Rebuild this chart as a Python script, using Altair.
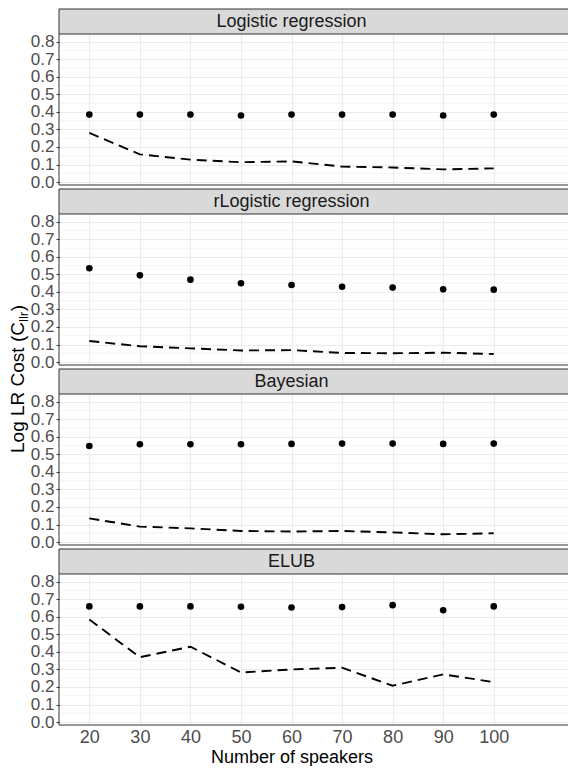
import altair as alt
import pandas as pd

FONT = "Liberation Sans"

speakers = [20, 30, 40, 50, 60, 70, 80, 90, 100]
methods = ["Logistic regression", "rLogistic regression", "Bayesian", "ELUB"]

cllr_points = {
    "Logistic regression": [0.385, 0.385, 0.385, 0.38, 0.385, 0.385, 0.385, 0.38, 0.385],
    "rLogistic regression": [0.535, 0.495, 0.47, 0.45, 0.44, 0.43, 0.425, 0.415, 0.413],
    "Bayesian": [0.548, 0.558, 0.558, 0.558, 0.56, 0.562, 0.562, 0.56, 0.562],
    "ELUB": [0.66, 0.66, 0.66, 0.658, 0.654, 0.656, 0.667, 0.638, 0.66],
}
cllr_line = {
    "Logistic regression": [0.28, 0.158, 0.128, 0.113, 0.118, 0.088, 0.083, 0.072, 0.078],
    "rLogistic regression": [0.12, 0.09, 0.078, 0.066, 0.068, 0.052, 0.05, 0.053, 0.046],
    "Bayesian": [0.135, 0.088, 0.078, 0.063, 0.06, 0.063, 0.055, 0.044, 0.05],
    "ELUB": [0.585, 0.37, 0.43, 0.283, 0.3, 0.31, 0.207, 0.272, 0.228],
}
y_major = [0.0, 0.1, 0.2, 0.3, 0.4, 0.5, 0.6, 0.7, 0.8]
y_minor = [0.05, 0.15, 0.25, 0.35, 0.45, 0.55, 0.65, 0.75]

W = 509
PH = 151
SH = 25
GAP = 4
PX_PER_UNIT = 5.055
X_LO = 14.0

xscale = alt.Scale(domain=[X_LO, X_LO + W / PX_PER_UNIT], nice=False, zero=False)
yscale = alt.Scale(domain=[-0.017, 0.845], nice=False, zero=False)
DARK = "#333333"

yaxis = alt.Axis(
    values=y_major, format=".1f", grid=True, gridColor="#EBEBEB", gridWidth=1.1,
    domain=False, ticks=True, tickColor=DARK, tickSize=3, tickWidth=1,
    labelFontSize=17, labelColor="#4D4D4D", labelPadding=2, labelOverlap=False,
    title=None,
)


def strip(name, idx):
    gap = 0 if idx == 0 else GAP
    df = pd.DataFrame({"method": [name]})
    box = alt.Chart(df).mark_rect(fill="#D9D9D9").encode(
        x=alt.value(0), x2=alt.value(W), y=alt.value(gap), y2=alt.value(gap + SH)
    )
    top = alt.Chart(df).mark_rule(color=DARK, strokeWidth=1).encode(
        x=alt.value(0), x2=alt.value(W), y=alt.value(gap)
    )
    left = alt.Chart(df).mark_rule(color=DARK, strokeWidth=1).encode(
        x=alt.value(0), y=alt.value(gap), y2=alt.value(gap + SH)
    )
    label = alt.Chart(df).mark_text(
        fontSize=18, color="#1A1A1A", baseline="middle", align="center"
    ).encode(
        x=alt.X(datum=60, scale=xscale, axis=None),
        y=alt.value(gap + SH / 2),
        text="method:N",
    )
    return alt.layer(box, top, left, label).properties(
        width=W, height=SH + gap,
        view=alt.ViewConfig(stroke=None, fill=None),
    )


def panel(name, idx):
    last = idx == len(methods) - 1
    if last:
        xaxis = alt.Axis(
            values=speakers, grid=True, gridColor="#EBEBEB", gridWidth=1.1,
            domain=False, ticks=False, tickSize=0, labelFontSize=18,
            labelColor="#4D4D4D", labelPadding=3, labelOverlap=False,
            title="Number of speakers",
            titleFontSize=18, titleColor="#000000", titleFontWeight="normal",
            titlePadding=2, titleX=(60 - X_LO) * PX_PER_UNIT,
        )
    else:
        xaxis = alt.Axis(
            values=speakers, grid=True, gridColor="#EBEBEB", gridWidth=1.1,
            domain=False, ticks=False, labels=False, title=None,
        )
    pts = pd.DataFrame({"speakers": speakers, "value": cllr_points[name]})
    ln = pd.DataFrame({"speakers": speakers, "value": cllr_line[name]})
    mn = pd.DataFrame({"value": y_minor})
    one = alt.Data(values=[{}])

    minor = alt.Chart(mn).mark_rule(color="#EBEBEB", strokeWidth=0.6).encode(
        y=alt.Y("value:Q", scale=yscale, axis=yaxis)
    )
    line = alt.Chart(ln).mark_line(
        color="black", strokeWidth=1.9, strokeDash=[10, 6]
    ).encode(
        x=alt.X("speakers:Q", scale=xscale, axis=xaxis),
        y=alt.Y("value:Q", scale=yscale, axis=yaxis),
    )
    dots = alt.Chart(pts).mark_circle(color="black", opacity=1, size=44).encode(
        x=alt.X("speakers:Q", scale=xscale, axis=xaxis),
        y=alt.Y("value:Q", scale=yscale, axis=yaxis),
    )
    b_left = alt.Chart(one).mark_rule(color=DARK, strokeWidth=1).encode(
        x=alt.value(0), y=alt.value(0), y2=alt.value(PH)
    )
    b_top = alt.Chart(one).mark_rule(color=DARK, strokeWidth=1).encode(
        x=alt.value(0), x2=alt.value(W), y=alt.value(0)
    )
    b_bot = alt.Chart(one).mark_rule(color=DARK, strokeWidth=1).encode(
        x=alt.value(0), x2=alt.value(W), y=alt.value(PH)
    )
    layers = [minor, line, dots, b_left, b_top, b_bot]
    if idx == 1:
        fs = 19
        yb = 239
        base_kw = dict(angle=270, align="left", baseline="alphabetic", color="#000000")
        t1 = alt.Chart(one).mark_text(text="Log LR Cost (C", fontSize=fs, **base_kw).encode(
            x=alt.value(-35.5), y=alt.value(yb))
        t2 = alt.Chart(one).mark_text(text="llr", fontSize=13.3, dx=6.891 * fs, dy=4.5, **base_kw).encode(
            x=alt.value(-35.5), y=alt.value(yb))
        t3 = alt.Chart(one).mark_text(text=")", fontSize=fs, dx=6.891 * fs + 10.8, **base_kw).encode(
            x=alt.value(-35.5), y=alt.value(yb))
        layers += [t1, t2, t3]
    return alt.layer(*layers).properties(
        width=W, height=PH,
        view=alt.ViewConfig(fill="#FFFFFF", stroke=None),
    )


items = []
for i, m in enumerate(methods):
    items.append(strip(m, i))
    items.append(panel(m, i))

chart = alt.vconcat(*items, spacing=0, bounds="flush").properties(
    padding={"left": 0, "top": 0, "right": 0, "bottom": 0}
).configure(font=FONT).configure_axis(labelFont=FONT, titleFont=FONT)

chart.save("out.html", embed_options={"renderer": "svg", "actions": False})
